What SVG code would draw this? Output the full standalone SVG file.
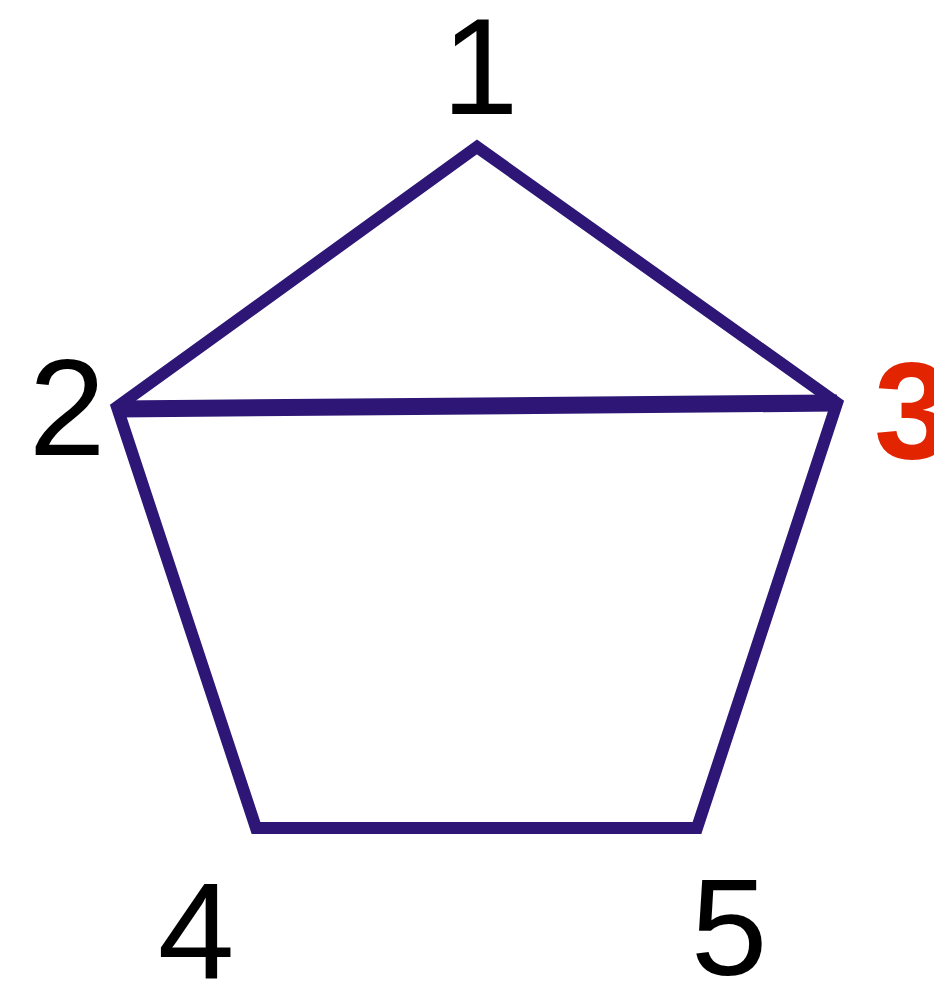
<svg xmlns="http://www.w3.org/2000/svg" width="934" height="987" viewBox="0 0 934 987">
<style>
.edge{fill:none;stroke:#2D1675;stroke-width:12;stroke-linejoin:miter;stroke-miterlimit:10}
.lbl{font-family:"Liberation Sans","DejaVu Sans",sans-serif;font-size:138px;fill:#000;text-anchor:middle}
.hl{fill:#E22500;font-weight:bold;text-anchor:start}
</style>
<rect width="934" height="987" fill="#fff"/>
<g id="connectors">
<polygon class="edge" points="477,147 837,403 697,828 256,828 117,407"/>
<line class="edge" x1="117" y1="409" x2="837" y2="403" style="stroke-width:17"/>
</g>
<g id="n1"><text class="lbl" x="480" y="114">1</text></g>
<g id="n2"><text class="lbl" x="67" y="455">2</text></g>
<g id="n3"><text class="lbl hl" x="874" y="458">3</text></g>
<g id="n4"><text class="lbl" x="196" y="978">4</text></g>
<g id="n5"><text class="lbl" x="729" y="975">5</text></g>
</svg>
